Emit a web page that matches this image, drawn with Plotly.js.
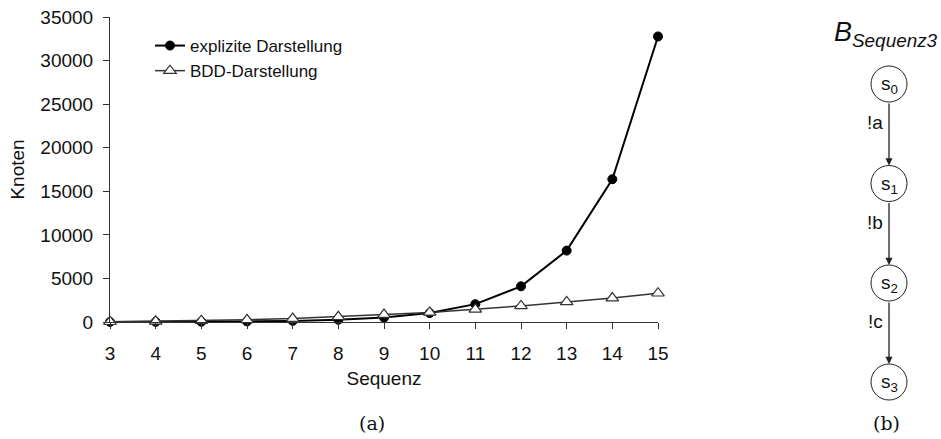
<!DOCTYPE html>
<html>
<head>
<meta charset="utf-8">
<script src="https://cdn.plot.ly/plotly-3.0.1.min.js"></script>
<style>html,body{margin:0;padding:0;background:#fff}#chart{width:941px;height:439px}</style>
</head>
<body>
<div id="chart"></div>
<script>
// Data
const sequenz = [3, 4, 5, 6, 7, 8, 9, 10, 11, 12, 13, 14, 15];
const explizit = [8, 16, 32, 64, 128, 256, 512, 1024, 2048, 4096, 8192, 16384, 32768];
const bdd = [30, 80, 150, 250, 400, 600, 850, 1100, 1450, 1850, 2300, 2750, 3300];
const seriesNames = ["explizite Darstellung", "BDD-Darstellung"];
const yTicks = [0, 5000, 10000, 15000, 20000, 25000, 30000, 35000];
const yTickText = ["0", "5000", "10000", "15000", "20000", "25000", "30000", "35000"];

// Diagram (b) content
const states = ["s<sub>0</sub>", "s<sub>1</sub>", "s<sub>2</sub>", "s<sub>3</sub>"];
const edgeLabels = ["!a", "!b", "!c"];

const W = 941, H = 439;
const FONT = "Liberation Sans, Arial, sans-serif";
const SERIF = "DejaVu Serif, Liberation Serif, serif";

const traces = [
  {
    x: sequenz, y: explizit, name: seriesNames[0], type: "scatter", mode: "lines+markers",
    line: {color: "#000", width: 2},
    marker: {symbol: "circle", size: 9, color: "#000", line: {color: "#000", width: 1}},
    cliponaxis: false
  },
  {
    x: sequenz, y: bdd, name: seriesNames[1], type: "scatter", mode: "lines+markers",
    line: {color: "#333", width: 1.5},
    marker: {symbol: "triangle-up", size: 11, color: "#fff", line: {color: "#333", width: 1.2}},
    cliponaxis: false
  }
];

// diagram geometry (pixel coordinates on hidden x2/y2 axes)
const cx = 889, r = 18;
const cy = [84, 183.5, 283, 382];
const shapes = [];
const annotations = [];
cy.forEach((c, i) => {
  shapes.push({type: "circle", xref: "x2", yref: "y2", x0: cx - r, x1: cx + r, y0: c - r, y1: c + r,
    line: {color: "#222", width: 1}, fillcolor: "rgba(0,0,0,0)"});
  annotations.push({xref: "x2", yref: "y2", x: cx, y: c + 1, text: states[i], showarrow: false,
    font: {family: FONT, size: 19, color: "#111"}, xanchor: "center", yanchor: "middle"});
});
for (let i = 0; i < 3; i++) {
  annotations.push({xref: "x2", yref: "y2", axref: "x2", ayref: "y2",
    x: cx, y: cy[i + 1] - r, ax: cx, ay: cy[i] + r, text: "", showarrow: true,
    arrowhead: 2, arrowsize: 1.1, arrowwidth: 1.3, arrowcolor: "#222", standoff: 0, startstandoff: 0});
  annotations.push({xref: "x2", yref: "y2", x: 875, y: (cy[i] + cy[i + 1]) / 2 - 11, text: edgeLabels[i],
    showarrow: false, font: {family: FONT, size: 19, color: "#111"}, xanchor: "center", yanchor: "middle"});
}
annotations.push({xref: "x2", yref: "y2", x: 886, y: 34, text: "<i>B<sub>Sequenz3</sub></i>", showarrow: false,
  font: {family: FONT, size: 27, color: "#111"}, xanchor: "center", yanchor: "middle"});
annotations.push({xref: "x2", yref: "y2", x: 886, y: 423, text: "(b)", showarrow: false,
  font: {family: SERIF, size: 19, color: "#111"}, xanchor: "center", yanchor: "middle"});
annotations.push({xref: "paper", yref: "paper", x: 372 / W, y: 1 - 423 / H, text: "(a)", showarrow: false,
  font: {family: SERIF, size: 19, color: "#111"}, xanchor: "center", yanchor: "middle"});

const layout = {
  width: W, height: H,
  margin: {l: 0, r: 0, t: 0, b: 0},
  paper_bgcolor: "#fff", plot_bgcolor: "rgba(0,0,0,0)",
  font: {family: FONT, color: "#111"},
  showlegend: true,
  legend: {x: 150 / W, y: 1 - 28 / H, xanchor: "left", yanchor: "top",
    font: {family: FONT, size: 17, color: "#111"}, bgcolor: "rgba(0,0,0,0)",
    tracegroupgap: 0, itemwidth: 30},
  xaxis: {
    domain: [110 / W, 658 / W], range: [3, 15], anchor: "y",
    tickvals: sequenz, ticks: "outside", ticklen: 6, tickcolor: "#333",
    ticklabelstandoff: 8,
    showline: true, linecolor: "#333", linewidth: 1, showgrid: false, zeroline: false,
    tickfont: {family: FONT, size: 19, color: "#111"},
    title: {text: "Sequenz", font: {family: FONT, size: 19, color: "#111"}, standoff: 8}
  },
  yaxis: {
    domain: [1 - 322 / H, 1 - 17 / H], range: [0, 35000], anchor: "x",
    tickvals: yTicks, ticktext: yTickText, ticks: "outside", ticklen: 6, tickcolor: "#333",
    ticklabelstandoff: 6,
    showline: true, linecolor: "#333", linewidth: 1, showgrid: false, zeroline: false,
    tickfont: {family: FONT, size: 19, color: "#111"},
    title: {text: "Knoten", font: {family: FONT, size: 19, color: "#111"}, standoff: 10}
  },
  xaxis2: {domain: [820 / W, 1], range: [820, 941], anchor: "y2", visible: false, fixedrange: true},
  yaxis2: {domain: [0, 1], range: [439, 0], anchor: "x2", visible: false, fixedrange: true},
  shapes: shapes,
  annotations: annotations
};

Plotly.newPlot("chart", traces, layout, {displayModeBar: false, staticPlot: true});
</script>
</body>
</html>
